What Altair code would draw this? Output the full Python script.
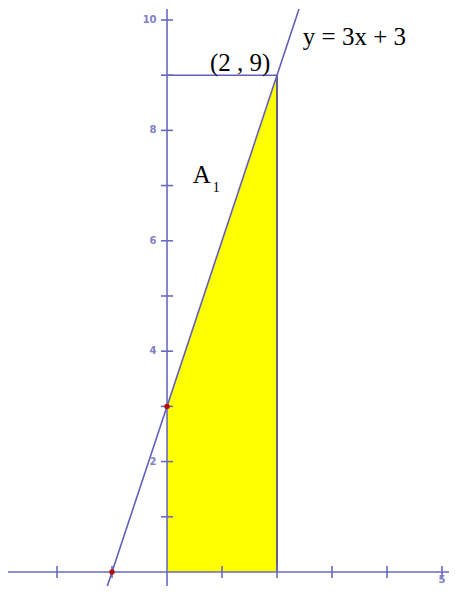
import altair as alt
import pandas as pd

# data
area_x = [0, 2]
area_y = [3, 9]
line_x = [-1.15, 2.4]
line_y = [3 * v + 3 for v in line_x]
points_x = [-1, 0]
points_y = [0, 3]
xticks = [-2, -1, 1, 2, 3, 4, 5]
yticks = [1, 2, 3, 4, 5, 6, 7, 8, 9, 10]
ylabels = [2, 4, 6, 8, 10]
xlabels = [5]

XMIN, XMAX = -2.891, 5.127
YMIN, YMAX = -0.254, 10.217
xs = alt.Scale(domain=[XMIN, XMAX], nice=False, zero=False)
ys = alt.Scale(domain=[YMIN, YMAX], nice=False, zero=False)
AX = "#6a6ac0"
LN = "#6060bc"
DK = "#3c3c7a"
FONT = "Liberation Serif"

def X(f="x"):
    return alt.X(f"{f}:Q", scale=xs, axis=None)

def Y(f="y"):
    return alt.Y(f"{f}:Q", scale=ys, axis=None)

area = alt.Chart(pd.DataFrame({"x": area_x, "y": area_y, "y2": [0, 0]})).mark_area(
    color="#ffff00", opacity=1
).encode(x=X(), y=Y(), y2="y2:Q")

seg = pd.DataFrame({
    "x": [0, 2, XMIN, 0],
    "x2": [2, 2, XMAX, 0],
    "y": [9, 0, 0, -0.6],
    "y2": [9, 9, 0, 10.2],
    "c": [LN, DK, AX, AX],
})
segs = alt.Chart(seg).mark_rule(strokeWidth=1.6).encode(
    x=X(), x2="x2:Q", y=Y(), y2="y2:Q", color=alt.Color("c:N", scale=None)
)

xt = pd.DataFrame({"x": xticks, "y": [-0.11] * len(xticks), "y2": [0.11] * len(xticks)})
xtick = alt.Chart(xt).mark_rule(color=AX, strokeWidth=1.6).encode(x=X(), y=Y(), y2="y2:Q")
yt = pd.DataFrame({"y": yticks, "x": [-0.11] * len(yticks), "x2": [0.11] * len(yticks)})
ytick = alt.Chart(yt).mark_rule(color=AX, strokeWidth=1.6).encode(x=X(), x2="x2:Q", y=Y())

line = alt.Chart(pd.DataFrame({"x": line_x, "y": line_y})).mark_line(
    color=LN, strokeWidth=1.6, clip=True
).encode(x=X(), y=Y())

pts = alt.Chart(pd.DataFrame({"x": points_x, "y": points_y})).mark_point(
    filled=True, color="#b01010", size=30, opacity=1
).encode(x=X(), y=Y())

yl = alt.Chart(pd.DataFrame({"y": ylabels, "x": [-0.19] * len(ylabels), "t": [str(v) for v in ylabels]})).mark_text(
    align="right", baseline="middle", font="DejaVu Sans", fontSize=10, fontWeight="bold", color="#8080c8"
).encode(x=X(), y=Y(), text="t:N")
xl = alt.Chart(pd.DataFrame({"x": xlabels, "y": [-0.24], "t": [str(v) for v in xlabels]})).mark_text(
    align="center", baseline="bottom", font="DejaVu Sans", fontSize=10, fontWeight="bold", color="#8080c8"
).encode(x=X(), y=Y(), text="t:N")

texts = pd.DataFrame({
    "x": [2.47, 0.78, 0.47],
    "y": [9.69, 9.22, 7.2],
    "t": ["y = 3x + 3", "(2 , 9)", "A"],
})
tx = alt.Chart(texts).mark_text(
    align="left", baseline="middle", font=FONT, fontSize=25, color="#000000"
).encode(x=X(), y=Y(), text="t:N")
sub = alt.Chart(pd.DataFrame({"x": [0.83], "y": [6.95], "t": ["1"]})).mark_text(
    align="left", baseline="middle", font=FONT, fontSize=14, color="#000000"
).encode(x=X(), y=Y(), text="t:N")

chart = alt.layer(area, segs, xtick, ytick, line, pts, yl, xl, tx, sub).properties(
    width=441, height=578, padding=0, autosize=alt.AutoSizeParams(type="none")
).configure_view(stroke=None)

chart.save("out.html", embed_options={"renderer": "svg", "actions": False})
